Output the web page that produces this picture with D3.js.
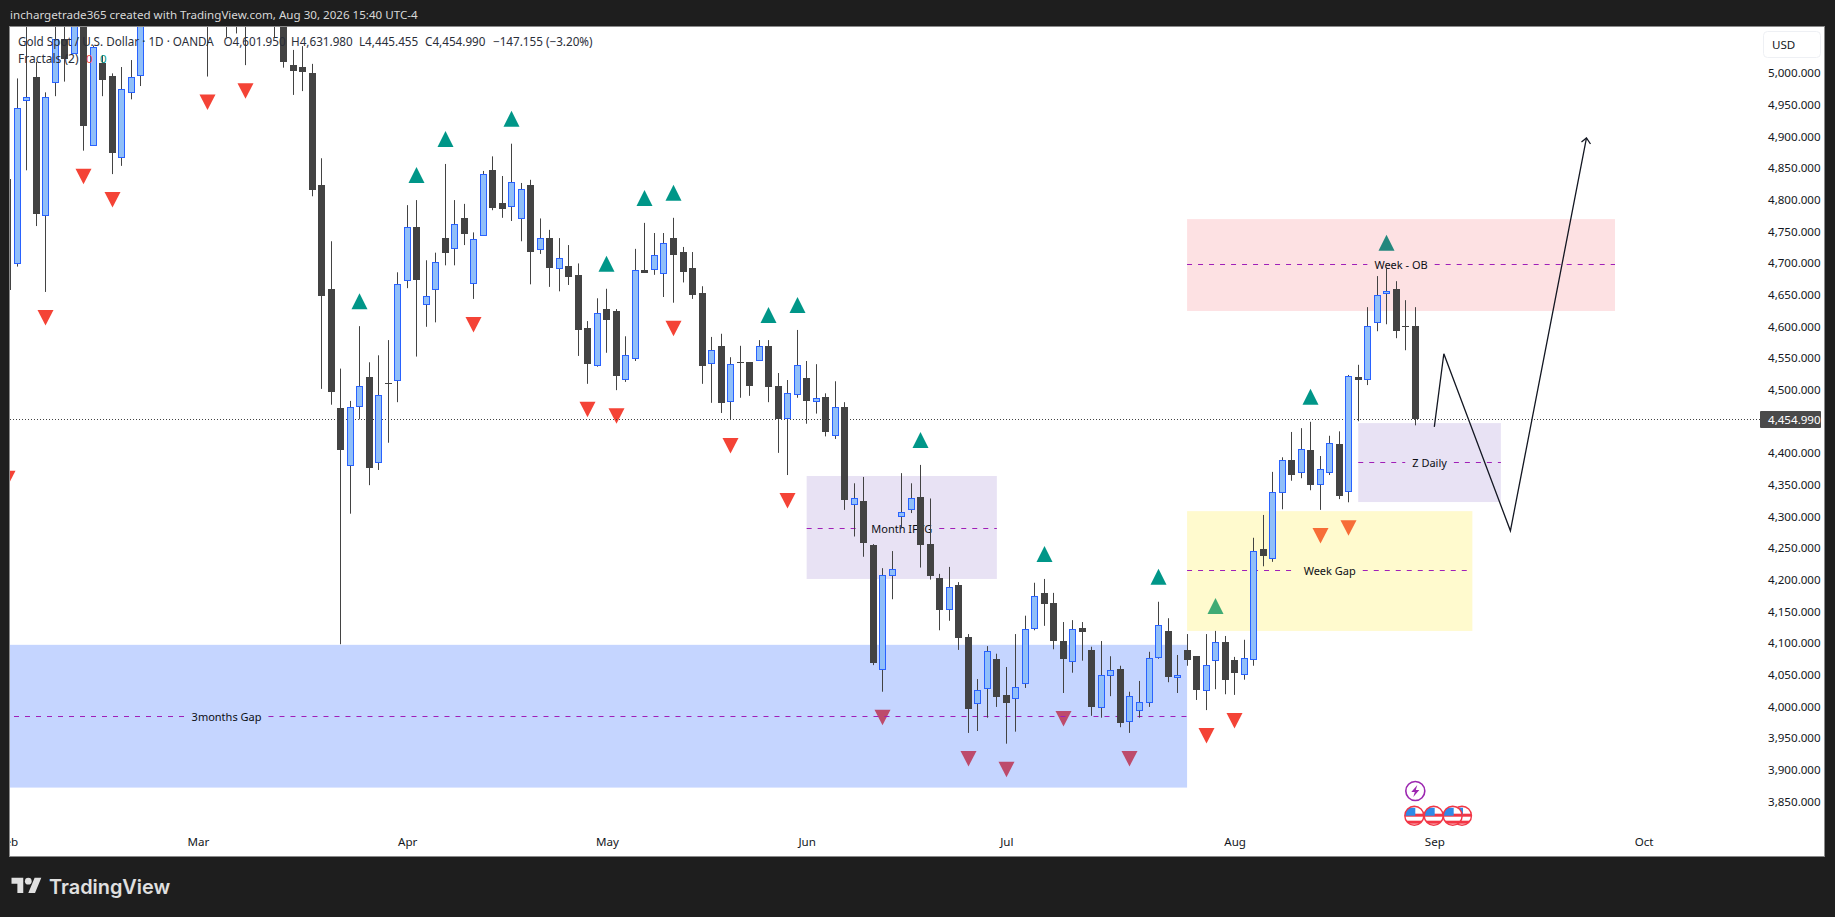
<!DOCTYPE html>
<html>
<head>
<meta charset="utf-8">
<title>Gold Spot / U.S. Dollar</title>
<script src="https://cdnjs.cloudflare.com/ajax/libs/d3/7.8.5/d3.min.js"></script>
<style>
    body { margin: 0; background: #1e1e1e; overflow: hidden; }
    text { font-family: "Noto Sans", sans-serif; }
</style>
</head>
<body>
<script>
// daily candles, first bar is the one cut off by the left edge (index 0)
var opens = [4834,
    4702, 4958, 4995, 4776, 4988, 5056, 5033, 5130, 4887, 5017,
    4997, 4869, 4972, 4999, 5150, 5110, 5160, 5190, 5150, 5180,
    5170, 5100, 5150, 5095, 5130, 5090, 5125, 5105, 5110, 5014,
    5011, 5001, 4825, 4660, 4473, 4382, 4475, 4521, 4388, 4512,
    4516, 4674, 4758, 4637, 4661, 4741, 4726, 4772, 4669, 4746,
    4848, 4797, 4792, 4773, 4825, 4724, 4741, 4694, 4697, 4683,
    4599, 4540, 4629, 4626, 4519, 4551, 4691, 4693, 4686, 4741,
    4719, 4694, 4654, 4544, 4571, 4484, 4545, 4545, 4549, 4571,
    4507, 4456, 4495, 4520, 4483, 4490, 4431, 4474, 4320, 4326,
    4257, 4061, 4208, 4301, 4312, 4332, 4258, 4204, 4156, 4193,
    4111, 4006, 4030, 4077, 4020, 4014, 4038, 4125, 4181, 4165,
    4105, 4074, 4126, 4091, 4001, 4052, 4061, 3979, 3995, 4008,
    4079, 4121, 4049, 4091, 4081, 4027, 4074, 4104, 4075, 4052,
    4077, 4250, 4237, 4339, 4390, 4371, 4406, 4352, 4372, 4416,
    4341, 4521, 4519, 4609, 4655, 4660, 4603, 4601.95];

var highs = [4850,
    4993, 5090, 5019, 4971, 5085, 5110, 5140, 5150, 5045, 5030,
    5001, 5011, 5022, 5110, 5170, 5180, 5210, 5220, 5195, 5205,
    5190, 5170, 5170, 5150, 5160, 5145, 5150, 5165, 5130, 5038,
    5044, 5016, 4867, 4736, 4535, 4484, 4602, 4545, 4556, 4580,
    4687, 4793, 4801, 4706, 4718, 4858, 4801, 4795, 4750, 4847,
    4870, 4839, 4890, 4828, 4833, 4772, 4754, 4741, 4730, 4701,
    4610, 4646, 4661, 4629, 4586, 4724, 4765, 4749, 4749, 4773,
    4727, 4719, 4665, 4585, 4590, 4553, 4571, 4545, 4580, 4580,
    4528, 4517, 4596, 4547, 4542, 4496, 4515, 4482, 4354, 4364,
    4258, 4220, 4247, 4370, 4354, 4383, 4330, 4211, 4222, 4198,
    4116, 4045, 4097, 4085, 4064, 4116, 4145, 4197, 4203, 4181,
    4135, 4138, 4135, 4096, 4105, 4081, 4066, 4025, 4042, 4088,
    4167, 4141, 4083, 4116, 4081, 4116, 4121, 4113, 4080, 4107,
    4268, 4304, 4372, 4395, 4435, 4441, 4451, 4397, 4429, 4436,
    4525, 4541, 4632, 4681, 4694, 4673, 4643, 4631.98];

var lows = [4402,
    4696, 4848, 4760, 4656, 4965, 4988, 5033, 4879, 4887, 4965,
    4842, 4855, 4960, 4981, 5095, 5100, 5140, 5130, 5130, 5120,
    4996, 5085, 5058, 5064, 5014, 5078, 5085, 5058, 5010, 4967,
    4973, 4807, 4503, 4478, 4100, 4306, 4455, 4351, 4375, 4418,
    4482, 4662, 4554, 4601, 4608, 4698, 4698, 4730, 4645, 4746,
    4785, 4773, 4768, 4736, 4668, 4716, 4664, 4657, 4667, 4555,
    4511, 4538, 4560, 4501, 4514, 4547, 4686, 4683, 4648, 4639,
    4671, 4645, 4511, 4481, 4465, 4454, 4489, 4492, 4549, 4482,
    4402, 4367, 4489, 4448, 4464, 4428, 4424, 4312, 4270, 4238,
    4067, 4025, 4171, 4283, 4307, 4221, 4202, 4122, 4137, 4091,
    3960, 3963, 3984, 4001, 3943, 3962, 4031, 4122, 4129, 4092,
    4023, 4055, 4074, 3987, 3984, 4018, 3969, 3960, 3984, 4001,
    4077, 4040, 4023, 4066, 4012, 3996, 4029, 4021, 4020, 4044,
    4066, 4223, 4230, 4313, 4358, 4362, 4343, 4312, 4367, 4329,
    4324, 4452, 4509, 4594, 4605, 4583, 4564, 4445.455];

var closes = [4659,
    4946, 4963, 4779, 4963, 5056, 5024, 5120, 4919, 5042, 4990,
    4876, 4976, 4996, 5090, 5110, 5160, 5190, 5150, 5180, 5150,
    5100, 5150, 5095, 5130, 5090, 5125, 5105, 5140, 5019, 5005,
    5003, 4817, 4650, 4497, 4406, 4474, 4507, 4377, 4493, 4510,
    4668, 4758, 4675, 4649, 4704, 4718, 4764, 4747, 4739, 4842,
    4788, 4788, 4830, 4819, 4720, 4741, 4693, 4709, 4680, 4596,
    4542, 4622, 4612, 4523, 4557, 4690, 4686, 4715, 4734, 4714,
    4687, 4651, 4539, 4565, 4481, 4543, 4544, 4507, 4571, 4506,
    4455, 4496, 4540, 4484, 4488, 4434, 4475, 4327, 4330, 4259,
    4071, 4210, 4218, 4308, 4330, 4257, 4208, 4154, 4191, 4110,
    3998, 4027, 4089, 4017, 4007, 4032, 4124, 4176, 4164, 4105,
    4077, 4124, 4119, 4001, 4052, 4060, 3976, 4018, 4008, 4078,
    4130, 4048, 4052, 4075, 4028, 4067, 4103, 4044, 4055, 4078,
    4247, 4239, 4341, 4390, 4367, 4408, 4350, 4376, 4417, 4334,
    4523, 4517, 4602, 4651, 4658, 4593, 4602, 4454.99];

// bars that carry a fractal marker
var fractalsDown = [0, 4, 8, 11, 21, 25, 49, 61, 64, 70, 76, 82, 92, 101, 105, 111, 118, 126, 129, 138, 141];
var fractalsUp = [37, 43, 46, 53, 63, 67, 70, 80, 83, 96, 109, 121, 127, 137, 145];

// axis ticks
var priceTicks = [3850, 3900, 3950, 4000, 4050, 4100, 4150, 4200, 4250, 4300, 4350, 4400,
                  4500, 4550, 4600, 4650, 4700, 4750, 4800, 4850, 4900, 4950, 5000];
var monthNames = ["Feb", "Mar", "Apr", "May", "Jun", "Jul", "Aug", "Sep", "Oct"];
var monthBars = [0, 20, 42, 63, 84, 105, 129, 150, 172];

// zones drawn by hand on the chart
var zoneNames = ["3months Gap", "Month IFVG", "Week Gap", "Z Daily", "Week - OB"];
var zoneFrom = [-78, 84, 124, 142, 124];
var zoneTo = [124, 104, 154, 157, 169];
var zoneTop = [4099, 4365.5, 4310, 4449, 4771];
var zoneBottom = [3873.7, 4203, 4121, 4324.4, 4626];
var zoneMiddle = [3986, 4284, 4217, 4387, 4699.5];
var zoneColors = ["#2962ff", "#673ab7", "#ffeb3b", "#673ab7", "#f23645"];
var zoneAlpha = [0.27, 0.15, 0.25, 0.15, 0.15];

// projected path
var pathBars = [150, 151, 158, 166];
var pathPrices = [4443, 4558.5, 4279, 4899];

// header values, each with the x where it starts
var legendTexts = ["Gold Spot / U.S. Dollar · 1D · OANDA", "O4,601.950", "H4,631.980", "L4,445.455", "C4,454.990", "−147.155 (−3.20%)"];
var legendStarts = [18, 223.4, 291, 359, 425, 493];

var lastPrice = 4454.99;

// chart frame
var chartLeft = 10;
var chartRight = 1824;
var chartTop = 27;
var chartBottom = 856;

var scaleX = d3.scaleLinear().domain([0, 148]).range([7.8, 1415.3]);
var scaleY = d3.scaleLinear().domain([3850, 5000]).range([802.6, 74]);

var svg = d3.select("body").append("svg")
            .attr("width", 1835)
            .attr("height", 917)
            .style("display", "block");

window.onload = function() {
    drawFrame();

    var chart = svg.append("g").attr("clip-path", "url(#chartClip)");
    drawFractals(chart);
    drawZones(chart);
    drawLastPriceLine(chart);
    drawCandles(chart);
    drawPath(chart);
    drawEvents(chart);

    drawAxes();
    drawLegend();
    drawLogo();
};

// page background, white pane and the line of text above it
function drawFrame() {
    svg.append("rect").attr("width", 1835).attr("height", 917).attr("fill", "#1e1e1e");

    svg.append("clipPath").attr("id", "chartClip")
       .append("rect")
       .attr("x", chartLeft).attr("y", chartTop)
       .attr("width", chartRight - chartLeft).attr("height", chartBottom - chartTop);

    svg.append("rect")
       .attr("x", chartLeft - 0.5).attr("y", chartTop - 0.5)
       .attr("width", chartRight - chartLeft + 1).attr("height", chartBottom - chartTop + 1)
       .attr("fill", "#ffffff")
       .attr("stroke", "#8a8a8a");

    svg.append("text")
       .attr("x", 10).attr("y", 18.5)
       .attr("fill", "#d8d8d8")
       .style("font-size", "11.6px")
       .text("inchargetrade365 created with TradingView.com, Aug 30, 2026 15:40 UTC-4");
}

// triangles sit a fixed distance away from the wick of their bar
function drawFractals(chart) {
    var g = chart.append("g");

    g.selectAll(".down").data(fractalsDown).enter().append("path")
     .attr("class", "down")
     .attr("fill", "#f44336")
     .attr("d", function(i) {
         var cx = wickX(i), top = scaleY(lows[i]) + 18;
         return "M" + (cx - 8) + "," + top + "L" + (cx + 8) + "," + top + "L" + cx + "," + (top + 15.5) + "Z";
     });

    g.selectAll(".up").data(fractalsUp).enter().append("path")
     .attr("class", "up")
     .attr("fill", "#009688")
     .attr("d", function(i) {
         var cx = wickX(i), base = scaleY(highs[i]) - 17;
         return "M" + (cx - 8) + "," + base + "L" + (cx + 8) + "," + base + "L" + cx + "," + (base - 16) + "Z";
     });
}

// coloured boxes with a dashed middle line broken by their label
function drawZones(chart) {
    zoneNames.forEach(function(name, k) {
        var x0 = scaleX(zoneFrom[k]), x1 = scaleX(zoneTo[k]);
        var yTop = scaleY(zoneTop[k]), yBottom = scaleY(zoneBottom[k]);
        var yMiddle = Math.round(scaleY(zoneMiddle[k])) + 0.5;
        var center = (x0 + x1) / 2;

        chart.append("rect")
             .attr("x", x0).attr("y", yTop)
             .attr("width", x1 - x0).attr("height", yBottom - yTop)
             .attr("fill", zoneColors[k])
             .attr("fill-opacity", zoneAlpha[k]);

        var label = chart.append("text")
                         .attr("x", center).attr("y", yMiddle + 4)
                         .attr("text-anchor", "middle")
                         .attr("fill", "#0c0e14")
                         .style("font-size", "11px")
                         .text(name);

        var half = label.node().getComputedTextLength() / 2 + 7;
        [[x0, center - half], [center + half, x1]].forEach(function(part) {
            chart.append("line")
                 .attr("x1", part[0]).attr("x2", part[1])
                 .attr("y1", yMiddle).attr("y2", yMiddle)
                 .attr("stroke", "#a01fb8")
                 .attr("stroke-dasharray", "5,6");
        });
    });
}

function drawLastPriceLine(chart) {
    var y = Math.round(scaleY(lastPrice)) + 0.5;
    chart.append("line")
         .attr("x1", chartLeft).attr("x2", 1760)
         .attr("y1", y).attr("y2", y)
         .attr("stroke", "#434343")
         .attr("stroke-dasharray", "1,2");
}

// wicks land on whole pixels
function wickX(i) {
    return Math.floor(scaleX(i)) + 0.5;
}

function drawCandles(chart) {
    var bars = d3.range(opens.length);
    var g = chart.selectAll(".candle").data(bars).enter().append("g").attr("class", "candle");

    g.append("line")
     .attr("x1", wickX).attr("x2", wickX)
     .attr("y1", function(i) { return scaleY(highs[i]); })
     .attr("y2", function(i) { return scaleY(lows[i]); })
     .attr("stroke", "#434343");

    // dark bars are solid, rising bars are outlined in blue
    g.append("rect")
     .attr("x", function(i) { return wickX(i) - (closes[i] < opens[i] ? 3.5 : 3); })
     .attr("y", function(i) { return Math.round(scaleY(Math.max(opens[i], closes[i]))) + (closes[i] < opens[i] ? 0 : 0.5); })
     .attr("width", function(i) { return closes[i] < opens[i] ? 7 : 6; })
     .attr("height", function(i) {
         var h = Math.round(Math.abs(scaleY(opens[i]) - scaleY(closes[i])));
         return closes[i] < opens[i] ? Math.max(h, 1) : Math.max(h, 2);
     })
     .attr("fill", function(i) { return closes[i] < opens[i] ? "#434343" : "#90bff9"; })
     .attr("stroke", function(i) { return closes[i] < opens[i] ? "none" : "#2962ff"; });
}

// projected move, black polyline with a small arrow head
function drawPath(chart) {
    var line = d3.line()
                 .x(function(i) { return scaleX(pathBars[i]); })
                 .y(function(i) { return scaleY(pathPrices[i]); });

    chart.append("path")
         .attr("d", line(d3.range(pathBars.length)))
         .attr("fill", "none")
         .attr("stroke", "#131722")
         .attr("stroke-width", 1.3);

    var last = pathBars.length - 1;
    var tipX = scaleX(pathBars[last]), tipY = scaleY(pathPrices[last]);
    chart.append("path")
         .attr("d", "M" + (tipX - 5) + "," + (tipY + 4) + "L" + tipX + "," + tipY + "L" + (tipX + 4) + "," + (tipY + 6))
         .attr("fill", "none")
         .attr("stroke", "#131722")
         .attr("stroke-width", 1.3);
}

// calendar icons along the bottom of the pane
function drawEvents(chart) {
    var bolt = chart.append("g").attr("transform", "translate(" + scaleX(148) + ",791)");
    bolt.append("circle").attr("r", 9.5).attr("fill", "#ffffff").attr("stroke", "#9c27b0").attr("stroke-width", 1.6);
    bolt.append("path").attr("d", "M2,-6L-4,1H-0.5L-2,6L4,-1H0.5Z").attr("fill", "#9c27b0");

    var flagBars = [152, 151, 150, 149];
    flagBars.forEach(function(b, k) {
        var cx = [1462, 1452.7, 1433.7, 1414.3][k];
        var g = chart.append("g").attr("transform", "translate(" + cx + ",815.7)");
        var id = "flag" + b;
        g.append("clipPath").attr("id", id).append("circle").attr("r", 9.5);
        g.append("circle").attr("r", 9.5).attr("fill", "#ffffff");
        var inner = g.append("g").attr("clip-path", "url(#" + id + ")");
        inner.append("rect").attr("x", -10).attr("y", -2).attr("width", 20).attr("height", 3).attr("fill", "#f23645");
        inner.append("rect").attr("x", -10).attr("y", 5).attr("width", 20).attr("height", 3).attr("fill", "#f23645");
        inner.append("rect").attr("x", -10).attr("y", -8).attr("width", 11).attr("height", 8).attr("fill", "#2f8ae8");
        g.append("circle").attr("r", 9.5).attr("fill", "none").attr("stroke", "#f23645").attr("stroke-width", 1.4);
    });
}

function drawAxes() {
    var yAxis = d3.axisRight(scaleY)
                  .tickValues(priceTicks)
                  .tickSize(0)
                  .tickPadding(0)
                  .tickFormat(d3.format(",.3f"));

    var gy = svg.append("g").attr("transform", "translate(1768,-1)").call(yAxis);
    gy.select(".domain").remove();
    gy.selectAll("text").attr("fill", "#131722").style("font-size", "11.6px").style("font-family", "'Noto Sans'");

    var xAxis = d3.axisBottom(scaleX)
                  .tickValues(monthBars)
                  .tickSize(0)
                  .tickPadding(0)
                  .tickFormat(function(d, i) { return monthNames[i]; });

    // clip sits on an outer group so that the "Feb" label is cut at the pane edge
    var gx = svg.append("g").attr("clip-path", "url(#chartClip)")
                .append("g").attr("transform", "translate(0,838)").call(xAxis);
    gx.select(".domain").remove();
    gx.selectAll("text").attr("fill", "#131722").style("font-size", "11.6px").style("font-family", "'Noto Sans'");

    // current price tag
    svg.append("rect").attr("x", 1760).attr("y", 411).attr("width", 61).attr("height", 17)
       .attr("rx", 1).attr("fill", "#4a4a4a");
    svg.append("text").attr("x", 1768).attr("y", 423.5)
       .attr("fill", "#ffffff")
       .style("font-size", "11.6px")
       .text(d3.format(",.3f")(lastPrice));

    // currency button
    svg.append("rect").attr("x", 1763.5).attr("y", 31.5).attr("width", 57).attr("height", 26)
       .attr("rx", 4).attr("fill", "#ffffff").attr("stroke", "#eef0f4");
    svg.append("text").attr("x", 1772).attr("y", 49)
       .attr("fill", "#131722")
       .style("font-size", "11.6px")
       .text("USD");
}

function drawLegend() {
    svg.selectAll(".legendText").data(legendTexts).enter().append("text")
       .attr("class", "legendText")
       .attr("x", function(d, i) { return legendStarts[i]; })
       .attr("y", 45.5)
       .attr("fill", "#2a2e39")
       .style("font-size", "11.7px")
       .text(function(d) { return d; });

    svg.append("text").attr("x", 18).attr("y", 62.5)
       .attr("fill", "#2a2e39")
       .style("font-size", "12px")
       .text("Fractals (2)");
    svg.append("text").attr("x", 86).attr("y", 62.5)
       .attr("fill", "#f44336")
       .style("font-size", "11.6px")
       .text("0");
    svg.append("text").attr("x", 100).attr("y", 62.5)
       .attr("fill", "#009688")
       .style("font-size", "11.6px")
       .text("0");
}

function drawLogo() {
    var logo = svg.append("g").attr("transform", "translate(11.5,874.5) scale(0.84)").attr("fill", "#e0e0e0");
    logo.append("path").attr("d", "M14 22H7V11H0V4h14v18zM28 22h-8l7.5-18h8L28 22z");
    logo.append("circle").attr("cx", 20).attr("cy", 8).attr("r", 4);

    svg.append("text").attr("x", 49).attr("y", 894)
       .attr("fill", "#e0e0e0")
       .style("font-family", "Inter, sans-serif")
       .style("font-weight", 600)
       .style("font-size", "19.9px")
       .text("TradingView");
}
</script>
</body>
</html>
